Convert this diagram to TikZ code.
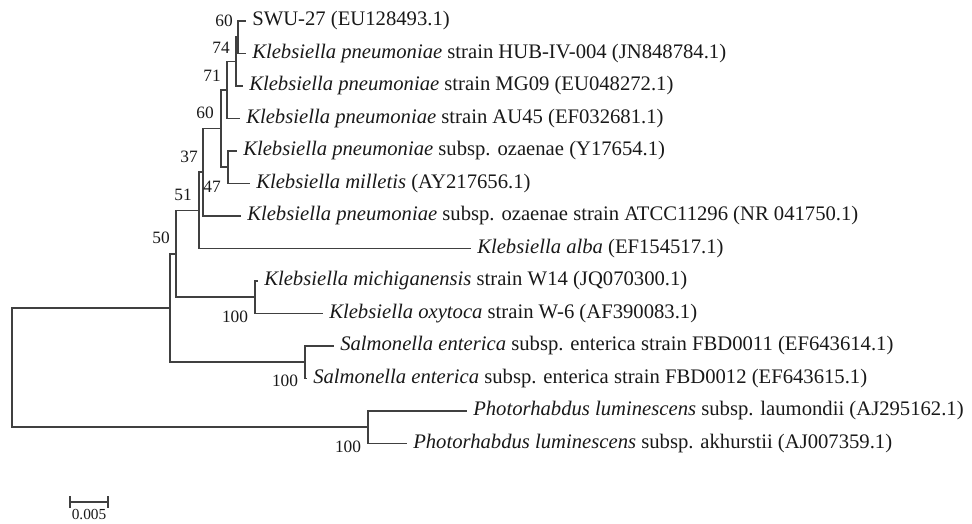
\documentclass[tikz,border=0pt]{standalone}
\usepackage{fontspec}
\setmainfont{Liberation Serif}
\usetikzlibrary{arrows.meta}

\begin{document}
\begin{tikzpicture}[x=0.75pt, y=-0.75pt,
	branch/.style={draw=black!75, line width=1.25pt},
	taxon/.style={anchor=west, inner xsep=4.5pt, inner ysep=0pt, text=black!90, font=\fontsize{15.5}{17}\selectfont},
	boot/.style={inner sep=0pt, text=black!90, font=\fontsize{13}{15}\selectfont}]
	\useasboundingbox (0,0) rectangle (972,524);

	\node[taxon] (swu) at (246,21) {SWU-27 (EU128493.1)};
	\node[taxon] (hub) at (246,53.5) {\textit{Klebsiella pneumoniae} strain HUB-IV-004 (JN848784.1)};
	\node[taxon] (mg) at (243,86) {\textit{Klebsiella pneumoniae} strain MG09 (EU048272.1)};
	\node[taxon] (au) at (240,118.5) {\textit{Klebsiella pneumoniae} strain AU45 (EF032681.1)};
	\node[taxon] (oza) at (237,151) {\textit{Klebsiella pneumoniae} subsp. ozaenae (Y17654.1)};
	\node[taxon] (mil) at (250,183.5) {\textit{Klebsiella milletis} (AY217656.1)};
	\node[taxon] (atcc) at (241,216) {\textit{Klebsiella pneumoniae} subsp. ozaenae strain ATCC11296 (NR 041750.1)};
	\node[taxon] (alba) at (471,248.5) {\textit{Klebsiella alba} (EF154517.1)};
	\node[taxon] (mich) at (258,281) {\textit{Klebsiella michiganensis} strain W14 (JQ070300.1)};
	\node[taxon] (oxy) at (323,313.5) {\textit{Klebsiella oxytoca} strain W-6 (AF390083.1)};
	\node[taxon] (salA) at (334,346) {\textit{Salmonella enterica} subsp. enterica strain FBD0011 (EF643614.1)};
	\node[taxon] (salB) at (307,378.5) {\textit{Salmonella enterica} subsp. enterica strain FBD0012 (EF643615.1)};
	\node[taxon] (lau) at (467,411) {\textit{Photorhabdus luminescens} subsp. laumondii (AJ295162.1)};
	\node[taxon] (akh) at (407,443.5) {\textit{Photorhabdus luminescens} subsp. akhurstii (AJ007359.1)};

	\coordinate (swuhub) at (238,37.25);
	\coordinate (kpA) at (236,61.6);
	\coordinate (kpB) at (227,90);
	\coordinate (ozmil) at (228,167.25);
	\coordinate (kpC) at (221,128.6);
	\coordinate (kpD) at (203,172.3);
	\coordinate (kpE) at (199,210.4);
	\coordinate (kmo) at (255,297.25);
	\coordinate (kleb) at (176,253.8);
	\coordinate (sal) at (305,362.25);
	\coordinate (ent) at (170,308);
	\coordinate (pho) at (368,427.25);
	\coordinate (root) at (12,367.6);

	\draw[branch] (swuhub) |- (swu.west);
	\draw[branch] (swuhub) |- (hub.west);
	\draw[branch] (kpA) |- (swuhub);
	\draw[branch] (kpA) |- (mg.west);
	\draw[branch] (kpB) |- (kpA);
	\draw[branch] (kpB) |- (au.west);
	\draw[branch] (ozmil) |- (oza.west);
	\draw[branch] (ozmil) |- (mil.west);
	\draw[branch] (kpC) |- (kpB);
	\draw[branch] (kpC) |- (ozmil);
	\draw[branch] (kpD) |- (kpC);
	\draw[branch] (kpD) |- (atcc.west);
	\draw[branch] (kpE) |- (kpD);
	\draw[branch] (kpE) |- (alba.west);
	\draw[branch] (kmo) |- (mich.west);
	\draw[branch] (kmo) |- (oxy.west);
	\draw[branch] (kleb) |- (kpE);
	\draw[branch] (kleb) |- (kmo);
	\draw[branch] (sal) |- (salA.west);
	\draw[branch] (sal) |- (salB.west);
	\draw[branch] (ent) |- (kleb);
	\draw[branch] (ent) |- (sal);
	\draw[branch] (pho) |- (lau.west);
	\draw[branch] (pho) |- (akh.west);
	\draw[branch] (root) |- (ent);
	\draw[branch] (root) |- (pho);

	\node[boot] (bswu) at (224,21) {60};
	\node[boot] (bkpA) at (221,48) {74};
	\node[boot] (bkpB) at (212,76) {71};
	\node[boot] (bkpC) at (205,113) {60};
	\node[boot] (bkpD) at (189,157) {37};
	\node[boot] (bozmil) at (212,187) {47};
	\node[boot] (bkpE) at (183,195) {51};
	\node[boot] (bkleb) at (161,238) {50};
	\node[boot] (bkmo) at (235,317) {100};
	\node[boot] (bsal) at (285,381) {100};
	\node[boot] (bpho) at (348,447) {100};

	\coordinate (sbl) at (69,502);
	\coordinate (sbr) at (109,502);
	\draw[branch, {Bar[width=9pt]}-{Bar[width=9pt]}] (sbl) -- (sbr);
	\node[inner sep=0pt, text=black!90, font=\fontsize{11.5}{13}\selectfont] (sbtext) at (89,515) {0.005};
\end{tikzpicture}
\end{document}
